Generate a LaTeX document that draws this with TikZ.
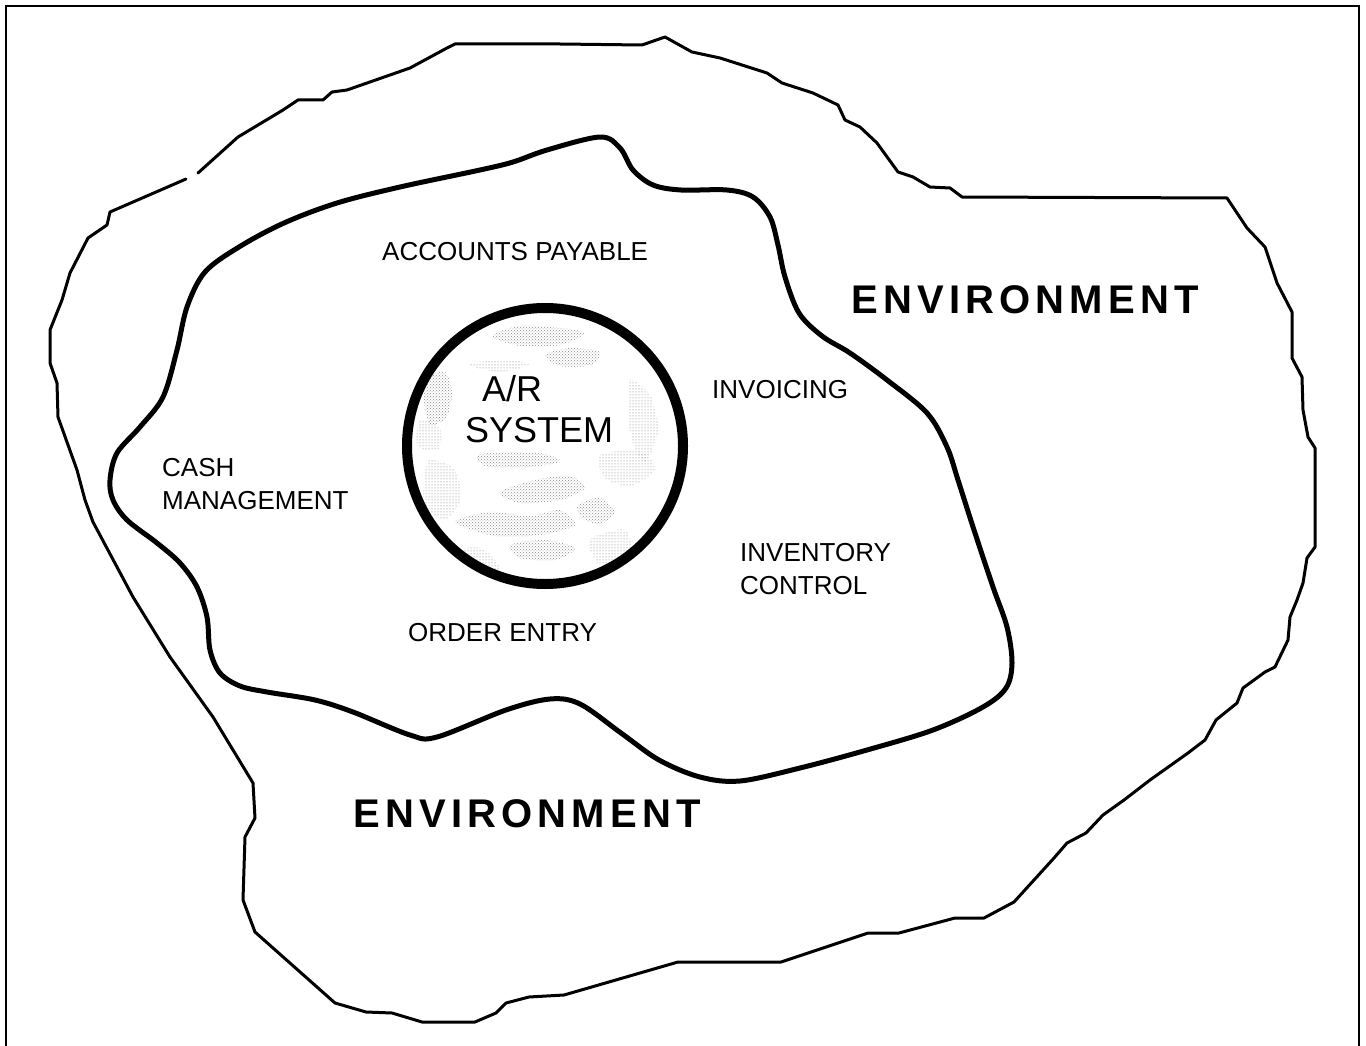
\documentclass[tikz,border=0pt]{standalone}
\usepackage{fontspec}
\setmainfont{Liberation Sans}
\newfontfamily\envfont[LetterSpace=13]{Liberation Sans}
\usetikzlibrary{patterns}

\tikzset{
  frameline/.style={line width=2pt},
  outerline/.style={line width=3pt, line join=round, line cap=round},
  innerline/.style={line width=5pt, line join=round},
  sysring/.style={draw, circle, line width=10pt, minimum size=276pt, inner sep=0pt},
  speckle/.style={pattern=crosshatch dots, pattern color=black!45},
  sparse/.style={pattern=dots, pattern color=black!55},
  lbl/.style={anchor=north west, inner sep=0pt, align=left,
              font=\fontsize{26}{33}\selectfont},
  syslbl/.style={anchor=north west, inner sep=0pt, align=left,
              font=\fontsize{36}{41}\selectfont},
  envlbl/.style={anchor=north west, inner sep=0pt,
              font=\envfont\bfseries\fontsize{40}{40}\selectfont},
}

\begin{document}
\begin{tikzpicture}[x=1pt, y=-1pt]
\useasboundingbox (0,0) rectangle (1366,1046);

% page frame, open at the bottom
\draw[frameline] (6,1046) -- (6,6) -- (1358.5,6) -- (1358.5,1046);

% outer environment boundary (hand-traced, with a small break at upper left)
\draw[outerline] (198,173) -- (238,137) -- (283,110) -- (298,100) -- (323,100)
  -- (332,92) -- (347,90) -- (410,68) -- (447,48) -- (455,44) -- (560,44)
  -- (642,45) -- (665,37) -- (692,52) -- (720,58) -- (767,73) -- (782,83)
  -- (813,93) -- (838,105) -- (845,120) -- (860,127) -- (877,143) -- (898,172)
  -- (913,177) -- (930,187) -- (950,188) -- (962,197) -- (1227,198)
  -- (1247,228) -- (1265,247) -- (1277,283) -- (1292,312) -- (1292,358)
  -- (1302,377) -- (1303,410) -- (1308,437) -- (1315,448) -- (1315,547)
  -- (1307,558) -- (1303,583) -- (1297,600) -- (1290,617) -- (1288,640)
  -- (1275,667) -- (1265,672) -- (1243,688) -- (1237,703) -- (1216,720)
  -- (1205,740) -- (1188,753) -- (1150,780) -- (1124,800) -- (1103,815)
  -- (1086,833) -- (1067,843) -- (1054,858) -- (1014,902) -- (984,918)
  -- (955,918) -- (899,933) -- (868,933) -- (781,962) -- (678,962)
  -- (564,995) -- (529,997) -- (506,1003) -- (496,1013) -- (475,1022)
  -- (422,1022) -- (392,1013) -- (366,1012) -- (335,1003) -- (255,932)
  -- (243,900) -- (245,837) -- (255,818) -- (253,783) -- (213,717)
  -- (170,657) -- (133,597) -- (93,522) -- (85,500) -- (77,470) -- (58,417)
  -- (57,383) -- (50,363) -- (50,330) -- (62,300) -- (70,273) -- (88,238)
  -- (107,225) -- (110,212) -- (186,179);

% inner organisation boundary
\draw[innerline] plot[smooth cycle, tension=0.55] coordinates {
  (110,480) (117,453) (140,427) (163,397) (177,350) (187,307) (205,272)
  (239,247) (284,223) (337,203) (400,187) (480,170) (513,162) (547,150)
  (600,137) (620,148) (633,170) (653,185) (681,190) (727,190) (753,197)
  (770,217) (778,245) (785,277) (799,313) (822,336) (850,353) (887,380)
  (927,413) (947,447) (958,480) (974,530) (993,587) (1007,627) (1012,663)
  (1006,688) (983,707) (933,730) (867,750) (800,768) (740,781) (700,777)
  (659,760) (621,733) (580,704) (550,699) (506,710) (437,737) (410,735)
  (353,712) (315,700) (267,692) (240,686) (220,673) (210,650) (207,617)
  (197,587) (180,563) (157,543) (127,520) (113,500)};

% speckled texture inside the A/R system
\begin{scope}
  \clip (545,446) circle (137);
  % denser patches
  \fill[speckle] plot[smooth cycle] coordinates {(492,336) (520,326) (560,328) (585,333) (560,345) (520,346)};
  \fill[speckle] plot[smooth cycle] coordinates {(545,355) (570,348) (600,352) (592,365) (560,366)};
  \fill[speckle] plot[smooth cycle] coordinates {(428,378) (445,372) (452,392) (446,418) (430,424) (424,400)};
  \fill[speckle] plot[smooth cycle] coordinates {(478,455) (510,452) (545,454) (560,462) (520,468) (485,466)};
  \fill[speckle] plot[smooth cycle] coordinates {(500,492) (535,480) (570,476) (585,488) (560,500) (520,503)};
  \fill[speckle] plot[smooth cycle] coordinates {(455,522) (490,512) (530,516) (560,510) (575,525) (540,535) (495,536)};
  \fill[speckle] plot[smooth cycle] coordinates {(510,545) (545,540) (575,548) (555,560) (520,558)};
  \fill[speckle] plot[smooth cycle] coordinates {(578,505) (600,498) (615,512) (600,524) (582,518)};
  % sparse dots
  \fill[sparse] plot[smooth cycle] coordinates {(470,365) (500,360) (530,364) (500,372)};
  \fill[sparse] plot[smooth cycle] coordinates {(630,380) (650,395) (658,430) (645,462) (632,440) (628,410)};
  \fill[sparse] plot[smooth cycle] coordinates {(430,460) (455,470) (460,500) (445,520) (425,505) (424,480)};
  \fill[sparse] plot[smooth cycle] coordinates {(600,455) (640,452) (655,470) (630,486) (605,478)};
  \fill[sparse] plot[smooth cycle] coordinates {(440,555) (480,548) (500,570) (470,578)};
  \fill[sparse] plot[smooth cycle] coordinates {(590,540) (625,530) (630,555) (600,565)};
  \fill[sparse] plot[smooth cycle] coordinates {(420,420) (440,428) (438,450) (418,446)};
\end{scope}
\node[sysring] (arsys) at (545,446) {};
\node[syslbl] (artext) at (465,375) {\hspace*{17pt}A/R\\SYSTEM};

% surrounding functions
\node[lbl] (payable)   at (382,242) {ACCOUNTS PAYABLE};
\node[lbl] (invoicing) at (712,380) {INVOICING};
\node[lbl] (cash)      at (162,458) {CASH\\MANAGEMENT};
\node[lbl] (inventory) at (740,543) {INVENTORY\\CONTROL};
\node[lbl] (orders)    at (408,623) {ORDER ENTRY};

% environment labels
\node[envlbl] (envright) at (851,285) {ENVIRONMENT};
\node[envlbl] (envlow)   at (353,799) {ENVIRONMENT};
\end{tikzpicture}
\end{document}
